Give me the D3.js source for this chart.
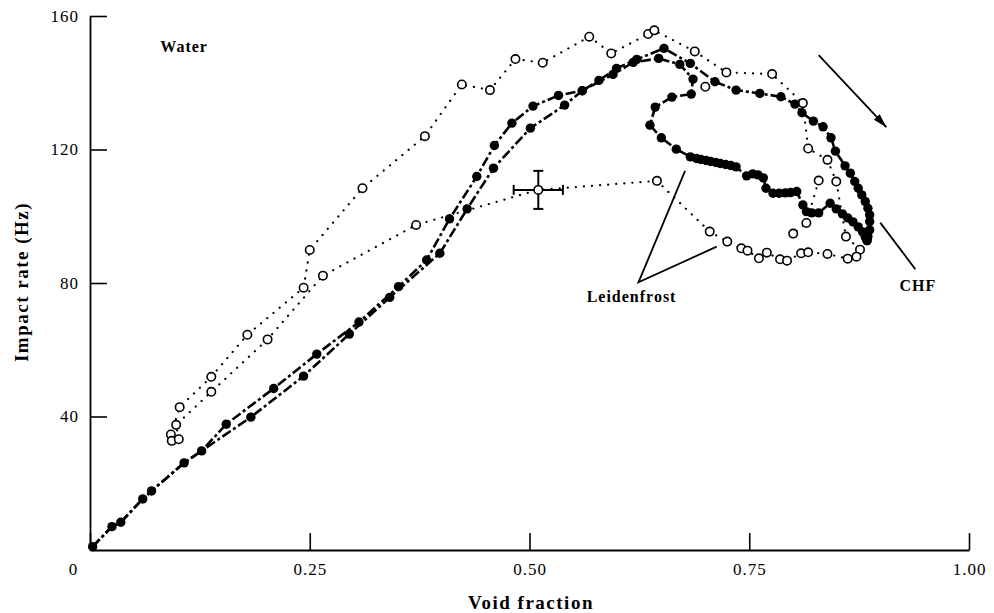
<!DOCTYPE html>
<html>
<head>
<meta charset="utf-8">
<script src="https://cdn.jsdelivr.net/npm/d3@7"></script>
<style>
  body { margin: 0; background: #fff; }
</style>
</head>
<body>
<div id="chart"></div>
<script>
// Filled circles: shared start of both runs
var filledStart = [[0.003,1.0],[0.025,7.0],[0.035,8.3],[0.060,15.3],[0.070,17.7],[0.107,26.1],[0.127,29.7]];

// Filled circles, run A (over the top, down the outside to CHF)
var filledRunA = [[0.155,37.7],[0.209,48.4],[0.258,58.7],[0.306,68.3],[0.351,78.9],[0.383,86.9],[0.409,99.2],
  [0.440,111.9],[0.460,121.2],[0.480,127.9],[0.504,133.0],[0.533,136.2],[0.560,137.6],[0.579,140.7],[0.599,144.3],
  [0.622,147.0],[0.653,150.3],[0.683,145.8],[0.711,140.3],[0.735,137.8],[0.762,136.8],[0.786,135.8],[0.802,133.6],
  [0.810,131.0],[0.823,128.5],[0.834,126.8],[0.843,123.5],[0.848,119.5],[0.859,115.1],[0.865,112.9],[0.870,110.4],
  [0.874,108.4],[0.878,106.4],[0.882,104.4],[0.885,102.4],[0.887,100.4],[0.887,98.4],[0.887,95.9],[0.885,93.9],[0.884,92.7]];

// Filled circles, run B (through the inside of the loop to CHF)
var filledRunB = [[0.183,39.8],[0.243,52.1],[0.295,64.7],[0.341,75.7],[0.398,88.9],[0.429,102.2],[0.459,114.4],
  [0.501,126.4],[0.540,133.3],[0.560,137.6],[0.595,142.5],[0.618,146.1],[0.647,147.3],[0.671,145.5],[0.686,141.1],
  [0.684,136.6],[0.662,135.7],[0.643,132.7],[0.637,127.3],[0.650,123.5],[0.667,120.1],[0.683,117.8],[0.690,117.3],
  [0.695,117.0],[0.701,116.7],[0.706,116.4],[0.712,116.1],[0.717,115.8],[0.723,115.5],[0.729,115.2],[0.735,114.8],
  [0.747,112.1],[0.754,112.7],[0.760,112.4],[0.766,111.5],[0.769,108.4],[0.777,106.9],[0.784,106.9],[0.791,107.0],
  [0.797,107.1],[0.804,107.4],[0.811,103.4],[0.815,101.4],[0.821,101.0],[0.829,101.0],[0.842,103.9],[0.849,102.2],
  [0.856,100.7],[0.862,99.5],[0.868,98.3],[0.874,96.8],[0.879,95.3],[0.882,93.8],[0.884,92.7]];

// Open circles, upper dotted run
var openUpper = [[0.092,34.6],[0.102,42.8],[0.138,51.9],[0.179,64.5],[0.243,78.6],[0.250,89.9],[0.310,108.4],
  [0.381,124.0],[0.423,139.5],[0.455,137.8],[0.484,147.1],[0.515,146.0],[0.568,153.8],[0.593,148.8],[0.635,154.6],
  [0.642,155.7],[0.688,149.4],[0.724,143.1],[0.776,142.6],[0.811,133.9],[0.817,120.3],[0.839,116.9],[0.849,110.4],
  [0.860,93.9],[0.876,90.0]];

// Open circles, lower dotted run
var openLower = [[0.093,32.7],[0.101,33.2],[0.098,37.5],[0.138,47.4],[0.202,63.1],[0.265,82.2],[0.371,97.4],
  [0.510,107.9],[0.645,110.6],[0.705,95.4],[0.725,92.4],[0.741,90.4],[0.748,89.7],[0.761,87.4],[0.770,89.1],
  [0.785,87.1],[0.793,86.7],[0.809,88.9],[0.817,89.2],[0.839,88.7],[0.862,87.3],[0.872,87.9]];

// Open circles, short inner run and a lone point
var openInner = [[0.829,110.7],[0.815,98.0],[0.800,94.8]];
var openLone = [[0.700,138.8]];

// Error bar on one open point: [x, y, half width in x, half height in y]
var errorBar = [0.510, 107.9, 0.028, 5.7];

// Axis ticks
var xTicks = [0, 0.25, 0.5, 0.75, 1.0];
var xTickLabels = ["0", "0.25", "0.50", "0.75", "1.00"];
var yTicks = [40, 80, 120, 160];

// Annotations in data units
var arrowLine = [[0.829,148.3],[0.906,126.7]];
var chfLine = [[0.899,98.1],[0.939,84.1]];
var leidenLines = [[0.677,113.6],[0.624,80.2],[0.713,90.9]];

var width = 994, height = 613;
var font = "'Liberation Serif', 'Times New Roman', serif";

var svg = d3.select('#chart')
  .append('svg')
  .attr('width', width)
  .attr('height', height)
  .style('background-color', '#fff');

var x = d3.scaleLinear().domain([0, 1]).range([90, 969]);
var y = d3.scaleLinear().domain([0, 160]).range([550, 16]);

var line = d3.line().x(function(d){ return x(d[0]); }).y(function(d){ return y(d[1]); });

// Axes, ticks point inward
var xAxis = svg.append('g')
  .attr('transform', 'translate(0,' + y(0) + ')')
  .call(d3.axisBottom(x).tickValues(xTicks)
    .tickFormat(function(d, i){ return xTickLabels[i]; })
    .tickSizeInner(-17).tickSizeOuter(0).tickPadding(13));

var yAxis = svg.append('g')
  .attr('transform', 'translate(' + x(0) + ',0)')
  .call(d3.axisLeft(y).tickValues(yTicks)
    .tickSizeInner(-17).tickSizeOuter(0).tickPadding(11));

[xAxis, yAxis].forEach(function(g){
  g.select('.domain').attr('stroke', '#000').attr('stroke-width', 1.8);
  g.selectAll('.tick line').attr('stroke', '#000').attr('stroke-width', 1.6);
  g.selectAll('.tick text')
    .attr('fill', '#000')
    .style('font-family', font)
    .style('font-size', '17px')
    .style('letter-spacing', '1px');
});
// the "0" sits left of the origin
xAxis.selectAll('.tick text').filter(function(d){ return d === 0; }).attr('x', -17);

// Axis titles
svg.append('text')
  .attr('x', 531).attr('y', 609)
  .attr('text-anchor', 'middle')
  .style('font-family', font).style('font-size', '19px').style('font-weight', 'bold')
  .style('letter-spacing', '1.5px')
  .text('Void fraction');

svg.append('text')
  .attr('transform', 'translate(28,' + 282 + ') rotate(-90)')
  .attr('text-anchor', 'middle')
  .style('font-family', font).style('font-size', '19px').style('font-weight', 'bold')
  .style('letter-spacing', '1.5px')
  .text('Impact rate (Hz)');

// Dotted lines for the open-circle runs
[openUpper, openLower, openInner].forEach(function(s){
  svg.append('path')
    .attr('d', line(s))
    .attr('fill', 'none')
    .attr('stroke', '#000')
    .attr('stroke-width', 2.2)
    .attr('stroke-linecap', 'round')
    .attr('stroke-dasharray', '0.1,8');
});

// Dash-dot lines for the filled runs
[filledStart.concat(filledRunA), filledStart.concat(filledRunB)].forEach(function(s){
  svg.append('path')
    .attr('d', line(s))
    .attr('fill', 'none')
    .attr('stroke', '#000')
    .attr('stroke-width', 2.6)
    .attr('stroke-dasharray', '10,3,3,3');
});

// Error bar
var eb = svg.append('g').attr('stroke', '#000').attr('stroke-width', 2);
var ex = errorBar[0], ey = errorBar[1], edx = errorBar[2], edy = errorBar[3];
eb.append('line').attr('x1', x(ex - edx)).attr('x2', x(ex + edx)).attr('y1', y(ey)).attr('y2', y(ey));
eb.append('line').attr('x1', x(ex)).attr('x2', x(ex)).attr('y1', y(ey - edy)).attr('y2', y(ey + edy));
[ex - edx, ex + edx].forEach(function(v){
  eb.append('line').attr('x1', x(v)).attr('x2', x(v)).attr('y1', y(ey) - 5).attr('y2', y(ey) + 5);
});
[ey - edy, ey + edy].forEach(function(v){
  eb.append('line').attr('x1', x(ex) - 5).attr('x2', x(ex) + 5).attr('y1', y(v)).attr('y2', y(v));
});

// Open circle markers
var openAll = openUpper.concat(openLower, openInner, openLone);
svg.append('g').selectAll('circle')
  .data(openAll)
  .enter().append('circle')
  .attr('cx', function(d){ return x(d[0]); })
  .attr('cy', function(d){ return y(d[1]); })
  .attr('r', 4.2)
  .attr('fill', '#fff')
  .attr('stroke', '#000')
  .attr('stroke-width', 1.6);

// Filled circle markers
var filledAll = filledStart.concat(filledRunA, filledRunB);
svg.append('g').selectAll('circle')
  .data(filledAll)
  .enter().append('circle')
  .attr('cx', function(d){ return x(d[0]); })
  .attr('cy', function(d){ return y(d[1]); })
  .attr('r', 4.7)
  .attr('fill', '#000');

// Annotations
var plain = d3.line().x(function(d){ return x(d[0]); }).y(function(d){ return y(d[1]); });
svg.append('path').attr('d', plain(chfLine)).attr('stroke', '#000').attr('stroke-width', 1.8).attr('fill', 'none');
svg.append('path').attr('d', plain(leidenLines)).attr('stroke', '#000').attr('stroke-width', 1.8).attr('fill', 'none');
svg.append('path').attr('d', plain(arrowLine)).attr('stroke', '#000').attr('stroke-width', 1.8).attr('fill', 'none');

// arrow head at the end of the arrow line
var ax0 = x(arrowLine[0][0]), ay0 = y(arrowLine[0][1]);
var ax1 = x(arrowLine[1][0]), ay1 = y(arrowLine[1][1]);
var ang = Math.atan2(ay1 - ay0, ax1 - ax0);
var hl = 14, hw = 4;
svg.append('path')
  .attr('d', 'M' + ax1 + ',' + ay1 +
    'L' + (ax1 - hl * Math.cos(ang) + hw * Math.sin(ang)) + ',' + (ay1 - hl * Math.sin(ang) - hw * Math.cos(ang)) +
    'L' + (ax1 - hl * Math.cos(ang) - hw * Math.sin(ang)) + ',' + (ay1 - hl * Math.sin(ang) + hw * Math.cos(ang)) + 'Z')
  .attr('fill', '#000');

function label(txt, xv, yv) {
  svg.append('text')
    .attr('x', x(xv)).attr('y', y(yv))
    .style('font-family', font).style('font-size', '16px').style('font-weight', 'bold')
    .style('letter-spacing', '1px')
    .text(txt);
}
label('Water', 0.080, 149.1);
label('Leidenfrost', 0.565, 74.4);
label('CHF', 0.921, 77.6);
</script>
</body>
</html>
